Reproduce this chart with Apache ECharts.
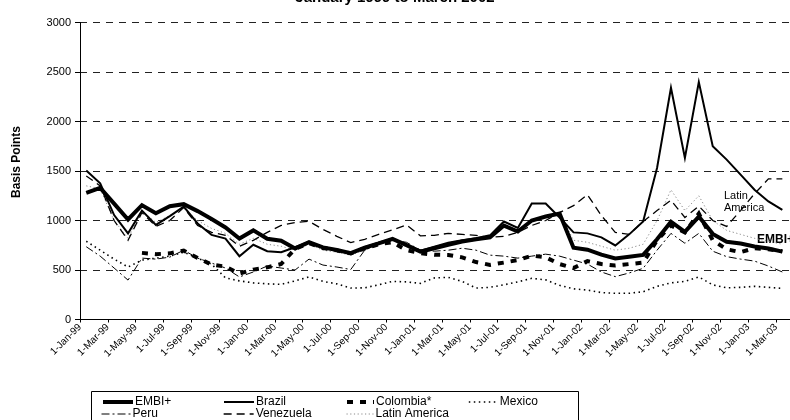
<!DOCTYPE html>
<html>
<head>
<meta charset="utf-8">
<script src="https://cdn.jsdelivr.net/npm/echarts/dist/echarts.min.js"></script>
<style>
  html, body { margin: 0; padding: 0; background: #fff; }
  #chart { width: 790px; height: 420px; }
</style>
</head>
<body>
<div id="chart"></div>
<script>
// Month categories for the date axis (ticks and labels every other month)
const months = [
  '1-Jan-99','1-Feb-99','1-Mar-99','1-Apr-99','1-May-99','1-Jun-99','1-Jul-99','1-Aug-99','1-Sep-99','1-Oct-99','1-Nov-99','1-Dec-99',
  '1-Jan-00','1-Feb-00','1-Mar-00','1-Apr-00','1-May-00','1-Jun-00','1-Jul-00','1-Aug-00','1-Sep-00','1-Oct-00','1-Nov-00','1-Dec-00',
  '1-Jan-01','1-Feb-01','1-Mar-01','1-Apr-01','1-May-01','1-Jun-01','1-Jul-01','1-Aug-01','1-Sep-01','1-Oct-01','1-Nov-01','1-Dec-01',
  '1-Jan-02','1-Feb-02','1-Mar-02','1-Apr-02','1-May-02','1-Jun-02','1-Jul-02','1-Aug-02','1-Sep-02','1-Oct-02','1-Nov-02','1-Dec-02',
  '1-Jan-03','1-Feb-03','1-Mar-03','1-Apr-03'
];

// Y-axis ticks (basis points)
const yTicks = [0, 500, 1000, 1500, 2000, 2500, 3000];

// Monthly spreads in basis points, Jan-99 .. Mar-03 (null = not yet quoted)
const embi = [1280,1330,1170,1010,1155,1073,1145,1165,1095,1015,930,818,900,815,796,718,780,728,702,670,725,768,815,752,686,720,755,787,811,830,949,889,1000,1040,1070,725,705,655,617,633,652,810,988,886,1040,865,785,768,738,717,686];
const brazil = [1506,1375,1055,870,1100,955,1045,1140,970,855,818,639,755,690,680,730,785,730,705,672,730,775,818,755,695,735,775,800,820,850,990,925,1172,1172,1030,880,870,830,748,860,990,1530,2340,1632,2399,1750,1615,1463,1311,1193,1108];
const colombia = [null,null,null,null,673,660,668,696,622,555,534,464,504,527,560,715,770,722,698,668,718,760,780,700,670,655,652,628,580,552,575,600,645,628,560,520,590,560,545,560,575,800,950,880,1070,800,710,680,720,710,690];
const mexico = [790,700,610,530,600,620,640,680,620,560,420,390,370,360,355,390,430,385,360,318,320,350,385,380,365,420,426,385,318,325,350,380,416,400,345,310,297,272,265,265,280,335,370,385,430,350,320,325,335,325,314];
const peru = [735,640,520,398,620,610,630,700,620,570,520,430,480,540,520,500,610,550,530,505,700,760,800,780,700,690,700,720,700,650,640,620,640,660,640,600,560,480,433,470,517,700,870,770,870,690,635,610,590,540,480];
const venezuela = [1450,1350,1000,800,1080,940,1000,1130,950,880,850,740,800,880,950,980,992,910,840,777,810,860,905,955,845,850,870,860,850,830,840,880,950,1000,1080,1150,1260,1050,880,860,990,1100,1205,1030,1145,1000,940,1100,1270,1420,1420];
const latinAmerica = [1350,1320,1000,820,1100,980,1050,1120,1000,920,870,760,820,760,740,700,760,700,680,650,700,760,800,760,700,720,760,780,800,820,950,900,1000,1040,1080,800,780,740,700,720,760,1000,1310,1100,1250,1000,900,860,820,790,760];

// Readings are taken mid-month, so each point sits a little after its month tick
const MID_MONTH = 0.45;

const FONT = 'Liberation Sans, Arial, sans-serif';

const styles = {
  'EMBI+':         { color: '#000', width: 4,   type: 'solid' },
  'Brazil':        { color: '#000', width: 2,   type: 'solid' },
  'Colombia*':     { color: '#000', width: 4,   type: [6, 7] },
  'Mexico':        { color: '#000', width: 1.6, type: [1.5, 3.5] },
  'Peru':          { color: '#000', width: 1,   type: [8, 3, 2, 3] },
  'Venezuela':     { color: '#000', width: 1.3, type: [8, 5] },
  'Latin America': { color: '#8a8a8a', width: 1, type: [1.2, 2.5] }
};

function lineSeries(name, values, z) {
  const pts = [];
  values.forEach((v, i) => { if (v != null) pts.push([i + MID_MONTH, v]); });
  return {
    name, type: 'line', xAxisIndex: 1, yAxisIndex: 0,
    data: pts, symbol: 'none', showSymbol: false,
    lineStyle: Object.assign({ cap: 'butt', join: 'miter' }, styles[name]),
    itemStyle: { color: styles[name].color },
    emphasis: { disabled: true }, silent: true, z
  };
}

function legendItem(name, left, top, w) {
  const s = styles[name];
  return {
    data: [name], left, top, padding: 0, itemWidth: w, itemHeight: 12,
    selectedMode: false,
    itemStyle: { opacity: 0 },
    lineStyle: { width: s.width, type: s.type, color: s.color, cap: 'butt' },
    textStyle: { fontFamily: FONT, fontSize: 12, color: '#000', padding: [0, 0, 0, -3] }
  };
}

const chart = echarts.init(document.getElementById('chart'), null, { renderer: 'canvas' });

chart.setOption({
  animation: false,
  backgroundColor: '#fff',
  grid: { left: 80, top: 22.5, width: 721.7, height: 297, containLabel: false },
  xAxis: [
    {
      type: 'category', data: months, boundaryGap: false,
      axisLine: { lineStyle: { color: '#000', width: 1 } },
      axisTick: { interval: 1, length: 3, lineStyle: { color: '#000' } },
      axisLabel: { interval: 1, rotate: 45, fontSize: 10, fontFamily: FONT, color: '#000', margin: 6 },
      splitLine: { show: false }
    },
    { type: 'value', min: 0, max: months.length - 1, show: false }
  ],
  yAxis: {
    type: 'value', min: yTicks[0], max: yTicks[yTicks.length - 1], interval: yTicks[1] - yTicks[0],
    axisLine: { show: true, lineStyle: { color: '#000', width: 1 } },
    axisTick: { show: true, length: 5, lineStyle: { color: '#000' } },
    axisLabel: { fontSize: 11, fontFamily: FONT, color: '#000', margin: 9, formatter: v => String(v) },
    splitLine: { show: true, lineStyle: { color: '#222', width: 1, type: [7, 6] } }
  },
  legend: [
    legendItem('EMBI+', 101, 396, 30),
    legendItem('Brazil', 223, 396, 30),
    legendItem('Colombia*', 345, 396, 27),
    legendItem('Mexico', 468, 396, 29),
    legendItem('Peru', 101, 408, 29),
    legendItem('Venezuela', 223, 408, 30),
    legendItem('Latin America', 346, 408, 27)
  ],
  graphic: [
    { type: 'text', left: 'center', top: -10, z: 10, style: { text: 'January 1999 to March 2002', font: 'bold 15px ' + FONT, fill: '#000' } },
    { type: 'text', x: 17, y: 162, rotation: Math.PI / 2, style: { text: 'Basis Points', font: 'bold 12px ' + FONT, fill: '#000', align: 'center', verticalAlign: 'middle' } },
    { type: 'text', x: 724, y: 196, z: 0, style: { text: 'Latin', font: '11px ' + FONT, fill: '#000', verticalAlign: 'middle' } },
    { type: 'text', x: 724, y: 208, z: 0, style: { text: 'America', font: '11px ' + FONT, fill: '#000', verticalAlign: 'middle' } },
    { type: 'text', x: 757, y: 240, z: 0, style: { text: 'EMBI+', font: 'bold 12px ' + FONT, fill: '#000', verticalAlign: 'middle' } },
    { type: 'rect', shape: { x: 91.5, y: 391.5, width: 487, height: 40 }, style: { fill: 'none', stroke: '#000', lineWidth: 1 }, z: 0 }
  ],
  series: [
    lineSeries('Latin America', latinAmerica, 2),
    lineSeries('Peru', peru, 3),
    lineSeries('Venezuela', venezuela, 3),
    lineSeries('Mexico', mexico, 3),
    lineSeries('Brazil', brazil, 4),
    lineSeries('EMBI+', embi, 5),
    lineSeries('Colombia*', colombia, 6)
  ]
});
</script>
</body>
</html>
